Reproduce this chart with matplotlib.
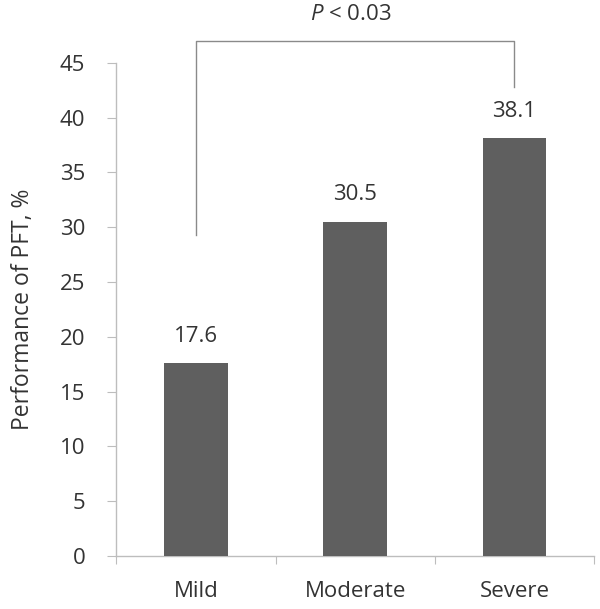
import matplotlib

matplotlib.use("Agg")
import matplotlib.pyplot as plt  # noqa: E402
import numpy as np  # noqa: E402

plt.rcParams["font.family"] = ["Open Sans", "DejaVu Sans"]
plt.rcParams["mathtext.fontset"] = "custom"
plt.rcParams["mathtext.it"] = "Open Sans:italic"
plt.rcParams["mathtext.rm"] = "Open Sans"

# ---------------- data ----------------
categories = ["Mild", "Moderate", "Severe"]
pft_perf = [17.6, 30.5, 38.1]
p_text = r"$P$ < 0.03"

GRID = "#bdbdbd"
BAR = "#5f5f5f"
TXT = "#333333"
FS = 16

fig = plt.figure(figsize=(6.0, 6.09), dpi=100)
ax = fig.add_axes([0.194, 0.087, 0.796, 0.81])

x = np.arange(len(categories)) + 0.5
ax.bar(x, pft_perf, width=0.4, color=BAR, zorder=3)
for xi, v in zip(x, pft_perf):
    ax.text(xi, v + 1.5, f"{v:.1f}", ha="center", va="bottom", fontsize=FS, color=TXT)

ax.set_xlim(0, 3)
ax.set_ylim(0, 45)
ax.set_yticks(np.arange(0, 46, 5))
ax.set_xticks(np.arange(0, 4))
ax.set_xticklabels([])
ax.set_xticks(x, minor=True)
ax.set_xticklabels(categories, minor=True)
ax.tick_params(axis="x", which="minor", length=0, pad=18, labelsize=FS, labelcolor=TXT)
ax.tick_params(axis="x", which="major", length=6, color=GRID, direction="out")
ax.tick_params(axis="y", length=6.5, color=GRID, labelsize=FS, labelcolor=TXT, pad=16)

for s in ("top", "right"):
    ax.spines[s].set_visible(False)
for s in ("left", "bottom"):
    ax.spines[s].set_color(GRID)
    ax.spines[s].set_linewidth(1.0)

ax.set_ylabel("Performance of PFT, %", fontsize=FS + 0.5, color=TXT)
ax.yaxis.set_label_coords(-0.17, 0.5)

# significance bracket Mild vs Severe
ax.plot([x[0], x[0], x[2], x[2]], [29.3, 47.0, 47.0, 42.8], color="#8a8a8a",
        lw=1.0, clip_on=False)
ax.text((x[0] + x[2]) / 2 - 0.03, 49.4, p_text, ha="center", va="center", fontsize=FS,
        color=TXT)

fig.savefig("out.png", dpi=100)
